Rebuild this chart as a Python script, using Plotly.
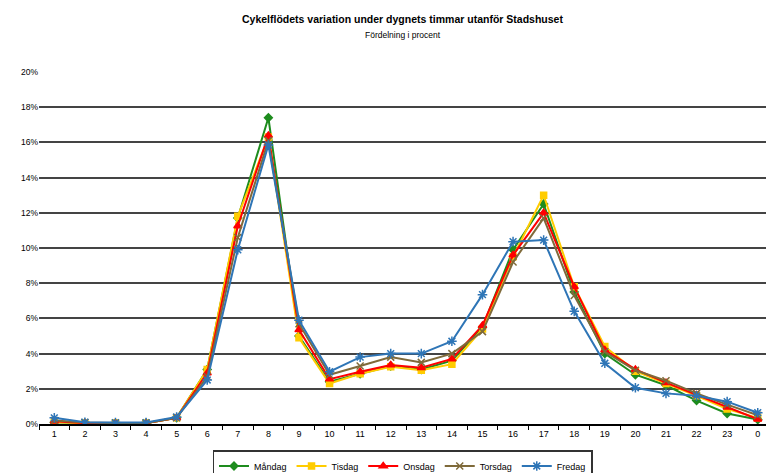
import plotly.graph_objects as go

hours = ["1","2","3","4","5","6","7","8","9","10","11","12","13","14","15","16","17","18","19","20","21","22","23","0"]

mandag  = [0.10,0.05,0.05,0.05,0.35,3.10,11.70,17.40,5.00,2.40,2.85,3.30,3.10,3.60,5.50,9.90,12.50,7.50,4.00,2.80,2.20,1.33,0.60,0.25]
tisdag  = [0.10,0.05,0.05,0.05,0.35,3.10,11.80,16.30,4.90,2.30,2.85,3.25,3.05,3.40,5.40,9.50,13.00,7.80,4.40,3.00,2.30,1.60,0.85,0.35]
onsdag  = [0.15,0.05,0.05,0.05,0.35,2.90,11.25,16.40,5.35,2.55,2.97,3.35,3.20,3.70,5.60,9.60,12.00,7.80,4.20,3.10,2.35,1.65,0.95,0.27]
torsdag = [0.20,0.08,0.05,0.05,0.35,2.70,10.60,16.10,5.70,2.80,3.30,3.80,3.50,4.00,5.25,9.20,11.70,7.30,4.10,3.05,2.46,1.74,1.10,0.50]
fredag  = [0.35,0.10,0.08,0.08,0.40,2.50,9.90,15.85,5.90,2.97,3.80,4.00,4.00,4.70,7.35,10.36,10.45,6.40,3.45,2.06,1.74,1.60,1.27,0.64]

series = [
    ("Måndag", mandag, "#1E8C1E", "diamond", 6),
    ("Tisdag", tisdag, "#FFCC00", "square", 6),
    ("Onsdag", onsdag, "#FF0000", "triangle-up", 7),
    ("Torsdag", torsdag, "#7F6A3A", "x-thin-open", 7),
    ("Fredag", fredag, "#2E75B6", "asterisk-open", 8),
]

y_ticks = list(range(0, 21, 2))
y_labels = [f"{v}%" for v in y_ticks]

fig = go.Figure()
for name, vals, color, sym, size in series:
    fig.add_trace(go.Scatter(
        x=hours, y=vals, name=name, mode="lines+markers",
        line=dict(color=color, width=2),
        marker=dict(symbol=sym, size=size, color=color, line=dict(color=color, width=1.5)),
    ))

ph = 473 - 72 - 49
fig.update_layout(
    width=766, height=473,
    margin=dict(l=39, r=0, t=72, b=49, autoexpand=False),
    paper_bgcolor="white", plot_bgcolor="white",
    font=dict(family="Liberation Sans, Arial, sans-serif", size=9, color="black"),
    showlegend=True,
    legend=dict(orientation="h", x=0.5, xanchor="center",
                yref="container", y=1 - 450 / 473, yanchor="top",
                bordercolor="#333", borderwidth=1.5, font=dict(size=9),
                tracegroupgap=0, itemwidth=30),
    annotations=[
        dict(text="<b>Cykelflödets variation under dygnets timmar utanför Stadshuset</b>",
             x=0.5, y=1 + (72 - 19) / ph, xref="paper", yref="paper", showarrow=False,
             yanchor="middle", font=dict(size=10.5)),
        dict(text="Fördelning i procent", x=0.5, y=1 + (72 - 35) / ph, xref="paper", yref="paper",
             showarrow=False, yanchor="middle", font=dict(size=8.5)),
    ],
)

fig.update_xaxes(
    type="category", range=[-0.5, 23.27],
    showline=True, linecolor="black", linewidth=1.5,
    ticks="outside", tickson="boundaries", ticklen=4, tickcolor="black",
    showgrid=False, tickfont=dict(size=9),
)
fig.update_yaxes(
    range=[0, 20], tickvals=y_ticks, ticktext=y_labels,
    showgrid=True, gridcolor="#444444", gridwidth=1.6,
    zeroline=False, showline=False, ticks="", tickfont=dict(size=8.5),
)

fig.write_html("out.html")
